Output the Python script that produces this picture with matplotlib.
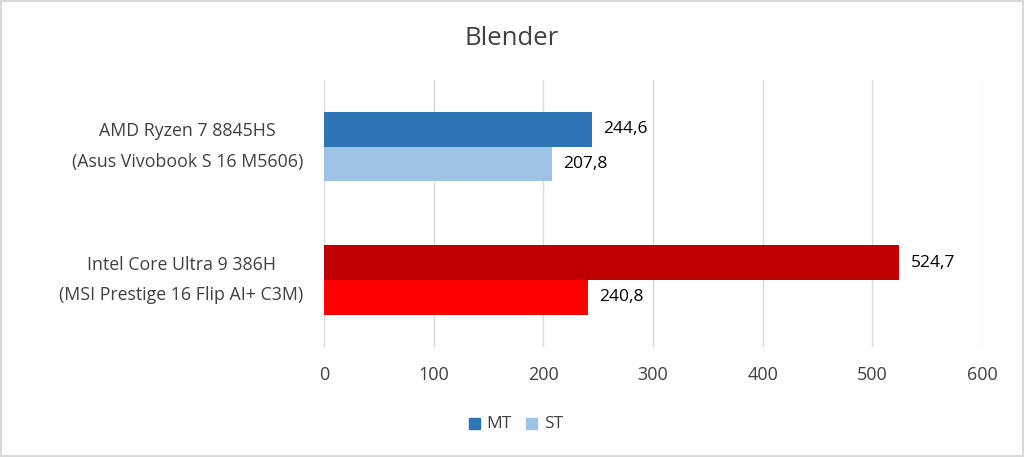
import matplotlib.pyplot as plt
from matplotlib.patches import Rectangle

plt.rcParams["font.family"] = ["Open Sans", "DejaVu Sans"]

categories = ["AMD Ryzen 7 8845HS\n(Asus Vivobook S 16 M5606)",
              "Intel Core Ultra 9 386H\n(MSI Prestige 16 Flip AI+ C3M)"]
mt_values = [244.6, 524.7]
st_values = [207.8, 240.8]
mt_colors = ["#2E75B6", "#C00000"]
st_colors = ["#9DC3E6", "#FF0000"]
x_ticks = [0, 100, 200, 300, 400, 500, 600]

TEXT = "#404040"

fig = plt.figure(figsize=(10.24, 4.57), dpi=100)
ax = fig.add_axes([0.3164, 0.241, 0.6426, 0.584])

h = 0.26
ys = [0, 1]
for y, mt, st, cm, cs in zip(ys, mt_values, st_values, mt_colors, st_colors):
    ax.barh(y - h / 2, mt, height=h, color=cm, zorder=3)
    ax.barh(y + h / 2, st, height=h, color=cs, zorder=3)
    ax.annotate(f"{mt:.1f}".replace(".", ","), (mt, y - h / 2), xytext=(8, 0),
                textcoords="offset points", va="center", ha="left", fontsize=12.5, color="black")
    ax.annotate(f"{st:.1f}".replace(".", ","), (st, y + h / 2), xytext=(8, 0),
                textcoords="offset points", va="center", ha="left", fontsize=12.5, color="black")

ax.set_ylim(1.5, -0.5)
ax.set_xlim(0, 600)
ax.set_xticks(x_ticks)
ax.set_yticks(ys)
ax.set_yticklabels(categories, fontsize=12.8, color=TEXT, linespacing=1.9)
for t in ax.get_yticklabels():
    t.set_multialignment("center")
    t.set_verticalalignment("center")
ax.tick_params(axis="x", labelsize=13, colors=TEXT, length=0, pad=14)
ax.tick_params(axis="y", length=0, pad=15)
ax.grid(axis="x", color="#D9D9D9", linewidth=1, zorder=0)
for s in ax.spines.values():
    s.set_visible(False)

fig.text(0.5, 0.915, "Blender", ha="center", va="center", fontsize=18.5, color=TEXT)

# legend
fig.patches.append(Rectangle((0.458, 0.062), 0.0105, 0.023, transform=fig.transFigure,
                             color="#2E75B6"))
fig.text(0.475, 0.073, "MT", ha="left", va="center", fontsize=12.5, color=TEXT)
fig.patches.append(Rectangle((0.514, 0.062), 0.0105, 0.023, transform=fig.transFigure,
                             color="#9DC3E6"))
fig.text(0.531, 0.073, "ST", ha="left", va="center", fontsize=12.5, color=TEXT)

fig.patches.append(Rectangle((0.001, 0.002), 0.998, 0.996, transform=fig.transFigure,
                             fill=False, edgecolor="#D9D9D9", linewidth=1.5))

fig.savefig("out.png", dpi=100)
